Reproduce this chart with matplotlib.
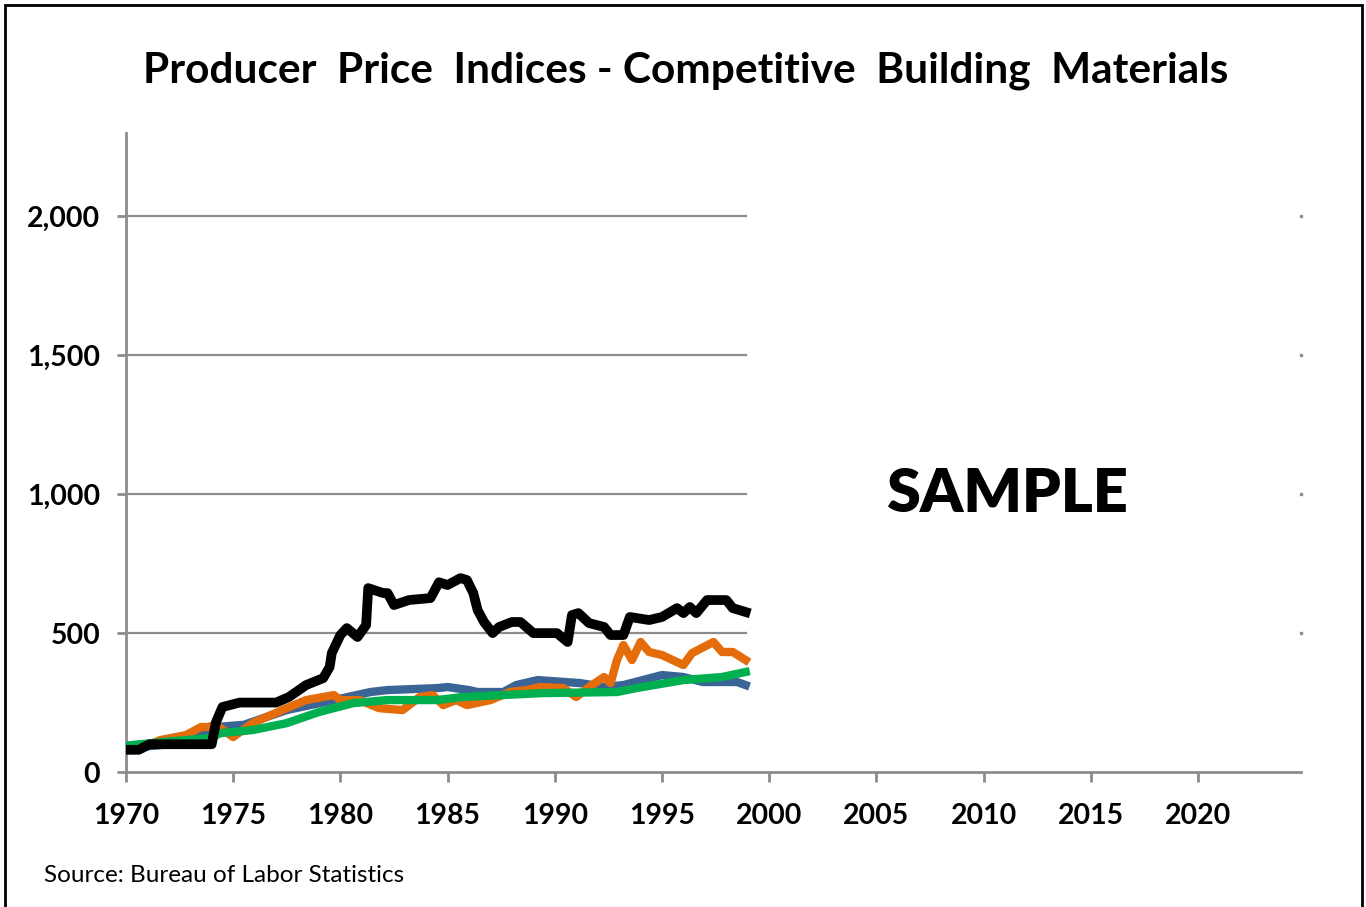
import matplotlib.pyplot as plt
from matplotlib.patches import Rectangle

# 数据
black_x = [1970.0, 1970.6, 1971.1, 1972.0, 1973.0, 1974.0, 1974.2, 1974.5, 1975.3, 1976.0, 1977.0, 1977.6,
           1978.4, 1979.2, 1979.5, 1979.6, 1980.0, 1980.3, 1980.8, 1981.2, 1981.3, 1982.0, 1982.2, 1982.5,
           1983.2, 1984.2, 1984.6, 1985.0, 1985.6, 1985.9, 1986.2, 1986.4, 1986.7, 1987.1, 1987.4, 1988.0,
           1988.4, 1989.0, 1990.1, 1990.6, 1990.8, 1991.1, 1991.6, 1992.3, 1992.6, 1993.2, 1993.5, 1994.4,
           1995.0, 1995.7, 1996.0, 1996.3, 1996.6, 1997.1, 1998.0, 1998.3, 1998.9]
black_y = [80, 80, 100, 100, 100, 100, 180, 234, 250, 250, 250, 270,
           313, 338, 378, 428, 493, 518, 486, 529, 662, 644, 644, 601,
           619, 626, 683, 673, 698, 691, 644, 583, 540, 500, 522, 540,
           540, 500, 500, 468, 565, 572, 536, 522, 493, 493, 558, 547,
           558, 590, 572, 594, 572, 619, 619, 590, 576]

orange_x = [1970.0, 1970.8, 1971.6, 1972.8, 1973.5, 1973.8, 1974.2, 1975.0, 1975.9, 1977.5, 1978.4, 1979.7,
            1980.0, 1980.9, 1981.8, 1982.9, 1983.7, 1984.3, 1984.8, 1985.4, 1985.9, 1987.0, 1987.9, 1988.7,
            1989.3, 1990.4, 1991.0, 1991.6, 1992.3, 1992.6, 1992.9, 1993.2, 1993.6, 1994.0, 1994.4, 1995.0,
            1996.0, 1996.4, 1997.4, 1997.8, 1998.3, 1998.9]
orange_y = [80, 90, 115, 133, 162, 162, 169, 126, 176, 230, 259, 277,
            259, 259, 230, 223, 270, 277, 241, 259, 241, 259, 288, 295,
            306, 302, 270, 306, 342, 320, 403, 457, 403, 468, 432, 421,
            385, 428, 468, 432, 432, 403]

blue_x = [1970.0, 1972.0, 1974.2, 1975.5, 1977.5, 1979.7, 1981.4, 1982.2, 1984.5, 1985.0, 1986.0, 1986.4,
          1987.6, 1988.2, 1989.2, 1991.2, 1992.3, 1993.2, 1995.0, 1996.0, 1996.9, 1998.5, 1998.9]
blue_y = [85, 100, 162, 170, 223, 259, 288, 295, 302, 306, 295, 288,
          288, 313, 331, 320, 306, 313, 349, 342, 324, 324, 313]

green_x = [1970.0, 1972.0, 1973.9, 1974.4, 1975.9, 1977.5, 1979.0, 1980.6, 1982.2, 1984.5, 1985.7, 1989.4,
           1992.9, 1993.8, 1996.0, 1997.8, 1998.9]
green_y = [95, 110, 122, 140, 151, 176, 216, 248, 259, 259, 270, 284,
           288, 302, 331, 342, 360]

y_ticks = [0, 500, 1000, 1500, 2000]
y_labels = ["0", "500", "1,000", "1,500", "2,000"]
x_ticks = [1970, 1975, 1980, 1985, 1990, 1995, 2000, 2005, 2010, 2015, 2020]
data_end = 1998.9

plt.rcParams['font.family'] = ['Lato', 'DejaVu Sans']
grey = "#8c8c8c"

fig = plt.figure(figsize=(13.66, 9.07), dpi=100)
ax = fig.add_axes([0.0922, 0.1488, 0.8602, 0.7046])

# 网格线只画到数据结束处
for v in y_ticks[1:]:
    ax.plot([1970, data_end], [v, v], color=grey, lw=1.6, zorder=1)
    ax.plot([2024.8], [v], marker="s", ms=1.5, color=grey, zorder=1, clip_on=False)

ax.plot(blue_x, blue_y, color="#3b6496", lw=6, solid_joinstyle="round", zorder=2)
ax.plot(orange_x, orange_y, color="#e46c0a", lw=6, solid_joinstyle="round", zorder=3)
ax.plot(green_x, green_y, color="#00b050", lw=6, solid_joinstyle="round", zorder=4)
ax.plot(black_x, black_y, color="black", lw=7, solid_joinstyle="round", zorder=5)

ax.set_xlim(1970, 2024.8)
ax.set_ylim(0, 2300)
ax.set_yticks(y_ticks)
ax.set_yticklabels(y_labels)
ax.set_xticks(x_ticks)
for s in ["top", "right"]:
    ax.spines[s].set_visible(False)
for s in ["left", "bottom"]:
    ax.spines[s].set_color(grey)
    ax.spines[s].set_linewidth(2)
ax.tick_params(axis="y", colors=grey, width=2, length=6.5, direction="out", pad=12)
ax.tick_params(axis="x", colors=grey, width=2, length=7, direction="out", pad=15)
for lab in ax.get_xticklabels() + ax.get_yticklabels():
    lab.set_color("black")
    lab.set_fontweight("bold")
    lab.set_fontsize(20.5)

fig.text(0.502, 0.922, "Producer  Price  Indices - Competitive  Building  Materials",
         ha="center", va="center", fontsize=30.5, fontweight="bold")
ax.text(2011.1, 1000, "SAMPLE", ha="center", va="center", fontsize=44, fontweight="heavy")
fig.text(0.032, 0.035, "Source: Bureau of Labor Statistics", fontsize=17.5, va="center")

fig.patches.append(Rectangle((0.004, -0.01), 0.993, 1.004, transform=fig.transFigure,
                             fill=False, edgecolor="black", lw=2))

fig.savefig("out.png", dpi=100)
